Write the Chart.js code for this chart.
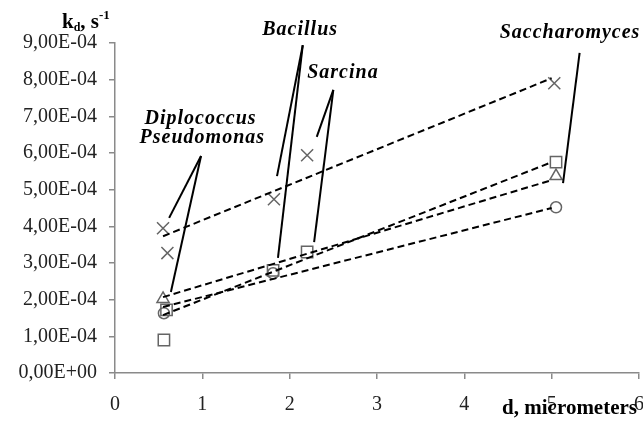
<!DOCTYPE html>
<html>
<head>
<meta charset="utf-8">
<script src="https://cdn.jsdelivr.net/npm/chart.js@4"></script>
<style>
  html, body { margin: 0; padding: 0; background: #fff; }
  #wrap { width: 643px; height: 423px; }
</style>
</head>
<body>
<div id="wrap"><canvas id="kdChart" width="643" height="423"></canvas></div>
<script>
// measured points, k_d in 1/s against cell size d in micrometers
var crossX = [0.55, 0.60, 1.82, 2.20, 5.03];
var crossY = [3.95e-4, 3.27e-4, 4.74e-4, 5.94e-4, 7.90e-4];
var triX = [0.55, 5.05];
var triY = [2.02e-4, 5.37e-4];
var squareX = [0.56, 0.59, 1.81, 2.20, 5.05];
var squareY = [0.90e-4, 1.72e-4, 2.80e-4, 3.30e-4, 5.75e-4];
var circleX = [0.56, 1.81, 5.05];
var circleY = [1.63e-4, 2.72e-4, 4.52e-4];

// dashed trend lines (start and end)
var trendX = [0.55, 5.0];
var crossTrendY = [3.73e-4, 8.04e-4];
var triTrendY = [2.07e-4, 5.26e-4];
var circleTrendY = [1.80e-4, 4.50e-4];
var squareTrendY = [1.58e-4, 5.75e-4];

// callout labels (data coords) and their pointer lines
var labelNames = ['Bacillus', 'Sarcina', 'Diplococcus', 'Pseudomonas', 'Saccharomyces'];
var labelX = [2.12, 2.61, 0.98, 1.0, 5.21];
var labelY = [9.35e-4, 8.18e-4, 6.93e-4, 6.41e-4, 9.27e-4];
// each pointer: [fromX, fromY, toX, toY]
var pointers = [
    [0.985, 5.92e-4, 0.62, 4.23e-4],
    [0.985, 5.92e-4, 0.64, 2.21e-4],
    [2.15, 8.94e-4, 1.855, 5.37e-4],
    [2.15, 8.94e-4, 1.866, 3.14e-4],
    [2.50, 7.72e-4, 2.31, 6.44e-4],
    [2.50, 7.72e-4, 2.28, 3.57e-4],
    [5.32, 8.73e-4, 5.13, 5.18e-4]
];

var xTicks = [0, 1, 2, 3, 4, 5, 6];

//zips two arrays into {x, y} points
function toPoints(xs, ys) {
    var pts = [];
    for (var i = 0; i < xs.length; i++) {
        pts.push({x: xs[i], y: ys[i]});
    }
    return pts;
}

//formats 3e-4 as 3,00E-04
function sciLabel(v) {
    var s = Number(v).toExponential(2);
    var parts = s.split('e');
    var exp = parseInt(parts[1], 10);
    var sign = exp < 0 ? '-' : '+';
    var e = Math.abs(exp);
    return parts[0].replace('.', ',') + 'E' + sign + (e < 10 ? '0' + e : e);
}

var markerColor = '#656565';

function markerSet(xs, ys, style, radius) {
    return {
        data: toPoints(xs, ys),
        showLine: false,
        pointStyle: style,
        pointRadius: radius,
        pointBorderColor: markerColor,
        pointBackgroundColor: 'rgba(0,0,0,0)',
        pointBorderWidth: 1.5
    };
}

function trendSet(ys) {
    return {
        data: toPoints(trendX, ys),
        showLine: true,
        borderColor: '#000',
        borderWidth: 2,
        borderDash: [7, 4],
        pointRadius: 0,
        fill: false
    };
}

//draws the titles and the callout labels
var notesPlugin = {
    id: 'notes',
    afterDatasetsDraw: function(chart) {
        var ctx = chart.ctx;
        var xs = chart.scales.x;
        var ys = chart.scales.y;
        ctx.save();

        //pointer lines
        ctx.strokeStyle = '#000';
        ctx.lineWidth = 2;
        pointers.forEach(function(p) {
            ctx.beginPath();
            ctx.moveTo(xs.getPixelForValue(p[0]), ys.getPixelForValue(p[1]));
            ctx.lineTo(xs.getPixelForValue(p[2]), ys.getPixelForValue(p[3]));
            ctx.stroke();
        });

        //names
        ctx.fillStyle = '#000';
        ctx.font = 'italic bold 20px "Liberation Serif"';
        ctx.letterSpacing = '1px';
        ctx.textAlign = 'center';
        ctx.textBaseline = 'middle';
        for (var i = 0; i < labelNames.length; i++) {
            ctx.fillText(labelNames[i], xs.getPixelForValue(labelX[i]), ys.getPixelForValue(labelY[i]));
        }
        ctx.letterSpacing = '0px';

        //y axis title: k_d, s^-1
        ctx.textAlign = 'left';
        ctx.textBaseline = 'alphabetic';
        var tx = 62, base = 28;
        ctx.font = 'bold 21px "Liberation Serif"';
        ctx.fillText('k', tx, base);
        tx += ctx.measureText('k').width;
        ctx.font = 'bold 12px "Liberation Serif"';
        ctx.fillText('d', tx, base + 3);
        tx += ctx.measureText('d').width;
        ctx.font = 'bold 21px "Liberation Serif"';
        ctx.fillText(', s', tx, base);
        tx += ctx.measureText(', s').width;
        ctx.font = 'bold 13px "Liberation Serif"';
        ctx.fillText('-1', tx, base - 9);

        //x axis title
        ctx.font = 'bold 21px "Liberation Serif"';
        ctx.textAlign = 'right';
        ctx.fillText('d, micrometers', 637, 414);
        ctx.restore();
    }
};

var ctx = document.getElementById('kdChart').getContext('2d');

var kdChart = new Chart(ctx, {
    type: 'scatter',
    data: {
        datasets: [
            trendSet(crossTrendY),
            trendSet(triTrendY),
            trendSet(circleTrendY),
            trendSet(squareTrendY),
            markerSet(crossX, crossY, 'crossRot', 8.5),
            markerSet(triX, triY, 'triangle', 7),
            markerSet(squareX, squareY, 'rect', 8),
            markerSet(circleX, circleY, 'circle', 5.5)
        ]
    },
    options: {
        responsive: false,
        animation: false,
        layout: {autoPadding: false, padding: {top: 43, right: 4, left: 0, bottom: 0}},
        plugins: {
            legend: {display: false},
            tooltip: {enabled: false}
        },
        scales: {
            x: {
                type: 'linear',
                min: 0,
                max: 6,
                afterBuildTicks: function(scale) {
                    scale.ticks = xTicks.map(function(v) { return {value: v}; });
                },
                afterFit: function(scale) {
                    scale.height = 50;
                    scale.paddingRight = 0;
                },
                border: {color: '#8a8a8a', width: 1.5},
                grid: {drawOnChartArea: false, color: '#8a8a8a', tickLength: 6, lineWidth: 1.5},
                ticks: {
                    color: '#222',
                    font: {family: '"Liberation Serif"', size: 20},
                    padding: 14,
                    maxRotation: 0
                }
            },
            y: {
                min: 0,
                max: 9e-4,
                afterFit: function(scale) { scale.width = 115; },
                border: {color: '#8a8a8a', width: 1.5},
                grid: {drawOnChartArea: false, color: '#8a8a8a', tickLength: 6, lineWidth: 1.5},
                ticks: {
                    stepSize: 1e-4,
                    color: '#222',
                    font: {family: '"Liberation Serif"', size: 20},
                    padding: 12,
                    callback: function(v) { return sciLabel(v); }
                }
            }
        }
    },
    plugins: [notesPlugin]
});
</script>
</body>
</html>
